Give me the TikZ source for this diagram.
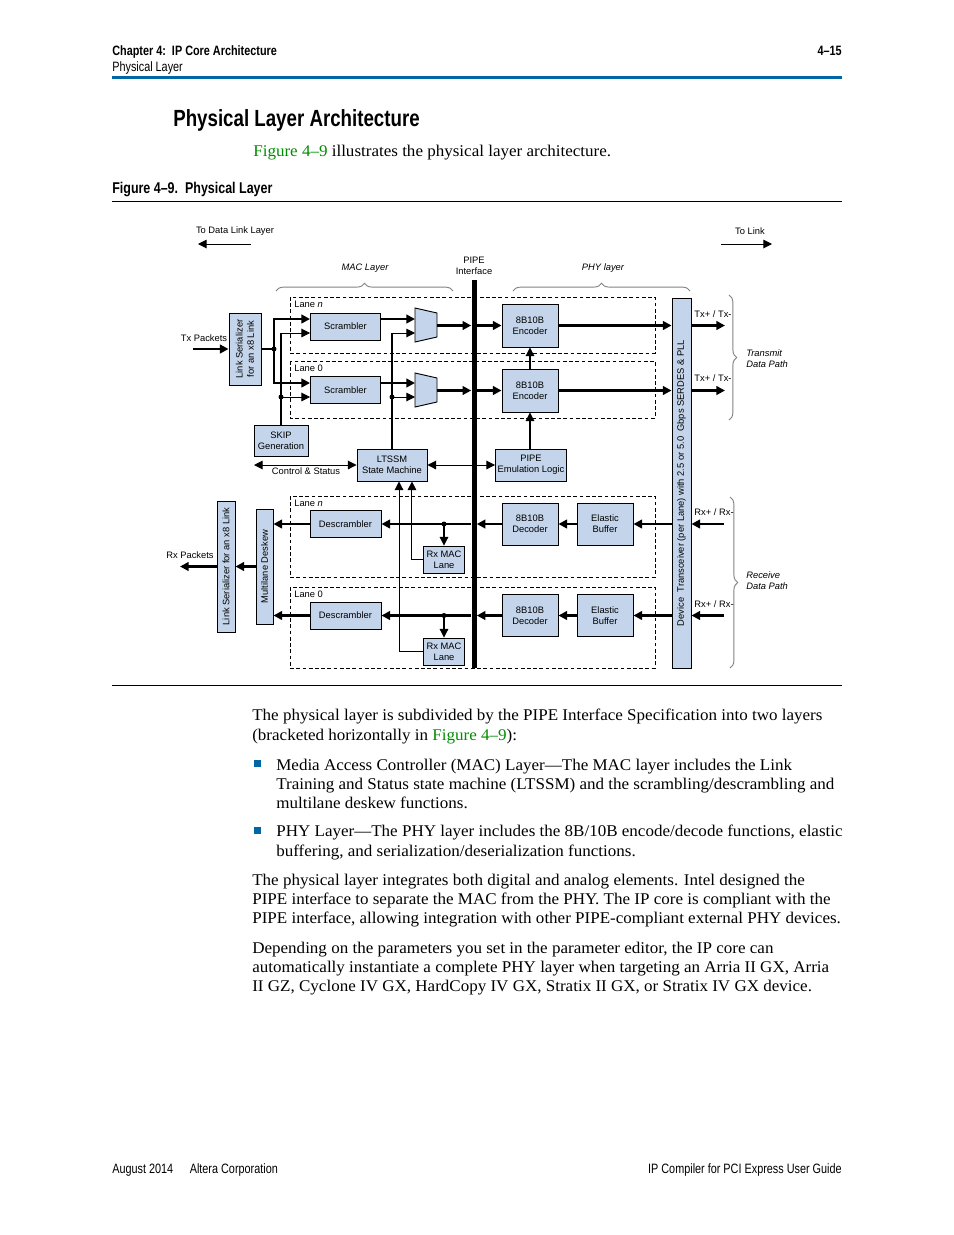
\documentclass[tikz,border=0pt]{standalone}
\usepackage{fontspec}
\setmainfont{Liberation Serif}[FakeStretch=1.04]
\setsansfont{Liberation Sans}
\newfontfamily\condfont[FakeStretch=0.8,Ligatures=TeX]{Liberation Sans}
\usetikzlibrary{arrows.meta,positioning,calc,decorations.pathreplacing}
\definecolor{boxblue}{RGB}{196,213,235}
\definecolor{rulecol}{RGB}{0,102,164}
\definecolor{figgreen}{RGB}{0,140,0}
\definecolor{bracegray}{RGB}{130,130,130}

\begin{document}
\begin{tikzpicture}[x=0.6415pt,y=-0.6415pt,
  >={Triangle[length=5.5pt,width=5.5pt]},
  sz/.style 2 args={minimum width=#1*0.6415pt,minimum height=#2*0.6415pt},
  diag/.style={font=\sffamily\fontsize{6}{7.2}\selectfont},
  blk/.style={draw,fill=boxblue,line width=0.6pt,inner sep=0pt,align=center,diag},
  lbl/.style={inner sep=0pt,align=center,diag},
  ital/.style={inner sep=0pt,align=left,font=\sffamily\itshape\fontsize{6}{7.2}\selectfont},
  ctl/.style={line width=0.65pt},
  data/.style={line width=1.9pt},
  lane/.style={draw,line width=0.6pt,dash pattern=on 2.4pt off 1.6pt},
  brc/.style={draw=bracegray,line width=0.6pt,decorate,decoration={brace,amplitude=5pt}},
  hdr/.style={inner sep=0pt,font=\condfont\bfseries\fontsize{8.7}{10}\selectfont},
  foot/.style={inner sep=0pt,font=\condfont\fontsize{8.7}{10}\selectfont},
  body/.style={inner sep=0pt,anchor=base west,align=left,font=\fontsize{10.5}{12.4}\selectfont},
  bul/.style={fill=rulecol,inner sep=0pt,sz={7}{7}}]
\useasboundingbox (0,0) rectangle (954,1235);

% page header
\node[hdr,anchor=base west] (chap) at (112,55) {Chapter 4:\ \ IP Core Architecture};
\node[foot,anchor=base west] (sect) at (112,71) {Physical Layer};
\node[hdr,anchor=base east] (pgno) at (842,55) {4--15};
\draw[rulecol,line width=1.6pt] (112,77.5) -- (842,77.5);
\node[hdr,font=\condfont\bfseries\fontsize{15}{17}\selectfont,anchor=base west] (title) at (173,126) {Physical Layer Architecture};
\node[body] (intro) at (253,156) {\textcolor{figgreen}{Figure 4--9} illustrates the physical layer architecture.};
\node[hdr,font=\condfont\bfseries\fontsize{10}{12}\selectfont,anchor=base west] (cap) at (112,193) {Figure 4--9.\ \ Physical Layer};
\draw[line width=0.6pt] (112,201) -- (842,201);
\draw[line width=0.6pt] (112,685) -- (842,685);

% lanes
\draw[lane] (290,297) rectangle (655,353);
\draw[lane] (290,361) rectangle (655,418);
\draw[lane] (290,496) rectangle (655,577);
\draw[lane] (290,587) rectangle (655,668);
\node[lbl,anchor=west] (lntx) at (294,304) {Lane \textit{n}};
\node[lbl,anchor=west] (l0tx) at (294,368.5) {Lane 0};
\node[lbl,anchor=west] (lnrx) at (294,503) {Lane \textit{n}};
\node[lbl,anchor=west] (l0rx) at (294,594) {Lane 0};

% blocks
\node[blk,rotate=90,sz={72}{32}] (txser) at (245,349) {Link Serializer\\for an x8 Link};
\node[blk,sz={70}{27}] (scrn) at (345.5,326.5) {Scrambler};
\node[blk,sz={70}{27}] (scr0) at (345.5,390) {Scrambler};
\node[blk,sz={54}{31}] (skip) at (281,440.5) {SKIP\\Generation};
\node[blk,sz={70}{32}] (ltssm) at (392,465) {LTSSM\\State Machine};
\node[blk,sz={71}{32}] (pemu) at (531,465) {PIPE\\Emulation Logic};
\node[blk,sz={56}{43}] (encn) at (530,325.5) {8B10B\\Encoder};
\node[blk,sz={56}{43}] (enc0) at (530,390.5) {8B10B\\Encoder};
\node[blk,rotate=90,sz={370}{19}] (serdes) at (681.5,483) {Device\ \ Transceiver (per Lane) with 2.5 or 5.0\ \ Gbps SERDES \& PLL};
\node[blk,sz={56}{42}] (decn) at (530,524) {8B10B\\Decoder};
\node[blk,sz={56}{42}] (dec0) at (530,615.5) {8B10B\\Decoder};
\node[blk,sz={56}{42}] (elbn) at (605,524) {Elastic\\Buffer};
\node[blk,sz={56}{42}] (elb0) at (605,615.5) {Elastic\\Buffer};
\node[blk,sz={71}{27}] (descn) at (345.5,524) {Descrambler};
\node[blk,sz={71}{27}] (desc0) at (345.5,615.5) {Descrambler};
\node[blk,sz={41}{27}] (rxmacn) at (444,559.5) {Rx MAC\\Lane};
\node[blk,sz={41}{27}] (rxmac0) at (444,651.5) {Rx MAC\\Lane};
\node[blk,rotate=90,sz={115}{17}] (deskew) at (264.5,566.5) {Multilane Deskew};
\node[blk,rotate=90,sz={131}{18}] (rxser) at (226,566.5) {Link Serializer for an x8 Link};
\node[fill=black,inner sep=0pt,sz={5}{388}] (pipe) at (474,474) {};

% muxes
\draw[fill=boxblue,line width=0.6pt] (415,308) -- (437,313) -- (437,337) -- (415,342) -- cycle;
\draw[fill=boxblue,line width=0.6pt] (415,373) -- (437,378) -- (437,402) -- (415,407) -- cycle;
\coordinate (muxna) at (415,319);
\coordinate (muxnb) at (415,333);
\coordinate (muxne) at (437,325.5);
\coordinate (mux0a) at (415,383);
\coordinate (mux0b) at (415,397);
\coordinate (mux0e) at (437,390.5);

% free ends
\coordinate (txpk) at (193,349);
\coordinate (txj) at (274,349);
\coordinate (txn) at (725,325.5);
\coordinate (tx0) at (725,390.5);
\coordinate (rxn) at (724,524);
\coordinate (rx0) at (724,615.5);
\coordinate (rxpk) at (180,566.5);
\coordinate (cs) at (254,465);
\coordinate (dlla) at (251,244);
\coordinate (dllb) at (198,244);
\coordinate (lnka) at (721,244);
\coordinate (lnkb) at (772,244);

% transmit path
\draw[data,->] (txpk) -- (txser.north);
\draw[data] (txser.south) -- (txj);
\fill (txj) circle[radius=1.6pt];
\draw[data,->] (txj) |- (scrn.west |- muxna);
\draw[data,->] (txj) |- (scr0.west |- mux0a);
\path[data,->]
(scrn.east |- muxna) edge (muxna)
(scr0.east |- mux0a) edge (mux0a)
(muxne) edge (muxne -| pipe.west)
(mux0e) edge (mux0e -| pipe.west)
(muxne -| pipe.east) edge (encn.west)
(mux0e -| pipe.east) edge (enc0.west)
(encn.east) edge (encn.east -| serdes.north)
(enc0.east) edge (enc0.east -| serdes.north)
(txn -| serdes.south) edge (txn)
(tx0 -| serdes.south) edge (tx0)
;
\draw[ctl,->] (skip.north) |- (scrn.west |- muxnb);
\draw[ctl,->] (skip.north |- mux0b) -- (scr0.west |- mux0b);
\fill (skip.north |- mux0b) circle[radius=1.6pt];
\draw[ctl,->] (ltssm.north) |- (muxnb);
\draw[ctl,->] (ltssm.north |- mux0b) -- (mux0b);
\fill (ltssm.north |- mux0b) circle[radius=1.6pt];
\path[ctl,->]
(enc0.north) edge (encn.south)
(enc0.south |- pemu.north) edge (enc0.south)
;
\path[ctl,<->]
(cs) edge (ltssm.west)
(ltssm.east) edge (pemu.west)
;

% receive path
\path[data,->]
(rxn) edge (rxn -| serdes.south)
(rx0) edge (rx0 -| serdes.south)
(rxn -| serdes.north) edge (elbn.east)
(rx0 -| serdes.north) edge (elb0.east)
(elbn.west) edge (decn.east)
(elb0.west) edge (dec0.east)
(decn.west) edge (decn.west -| pipe.east)
(dec0.west) edge (dec0.west -| pipe.east)
(decn.west -| pipe.west) edge (descn.east)
(dec0.west -| pipe.west) edge (desc0.east)
(descn.west) edge (descn.west -| deskew.south)
(desc0.west) edge (desc0.west -| deskew.south)
(deskew.north) edge (rxser.south)
(rxser.north) edge (rxpk)
;
\fill (rxmacn.north |- descn.east) circle[radius=1.6pt];
\fill (rxmac0.north |- desc0.east) circle[radius=1.6pt];
\path[ctl,->]
(rxmacn.north |- descn.east) edge (rxmacn.north)
(rxmac0.north |- desc0.east) edge (rxmac0.north)
;
\draw[ctl,->] (rxmacn.west) -| ([xshift=12.8pt]ltssm.south);
\draw[ctl,->] (rxmac0.west) -| ([xshift=4.5pt]ltssm.south);

% outer labels
\path[ctl,->] (dlla) edge (dllb) (lnka) edge (lnkb);
\node[lbl] (tdll) at (235,231) {To Data Link Layer};
\node[lbl] (tlnk) at (750,231) {To Link};
\node[ital] (tmac) at (365,268) {MAC Layer};
\node[lbl] (tpipe) at (474,265.5) {PIPE\\Interface};
\node[ital] (tphy) at (603,268) {PHY layer};
\draw[brc] (276,291) -- (453,291);
\draw[brc] (513,291) -- (690,291);
\draw[brc] (729,295) -- (729,420);
\draw[brc] (730,497) -- (730,668);
\node[ital,anchor=west] (ttx) at (746,358.5) {Transmit\\Data Path};
\node[ital,anchor=west] (trx) at (746,580.5) {Receive\\Data Path};
\node[lbl] (txpn) at (713,314) {Tx+ / Tx-};
\node[lbl] (txp0) at (713,378) {Tx+ / Tx-};
\node[lbl] (rxpn) at (714,512) {Rx+ / Rx-};
\node[lbl] (rxp0) at (714,604) {Rx+ / Rx-};
\node[lbl] (ttxpk) at (204,338) {Tx Packets};
\node[lbl] (trxpk) at (190,555) {Rx Packets};
\node[lbl] (tcs) at (306,471) {Control \& Status};

% body text (base = last line)
\node[body] (para1) at (252,740.3) {The physical layer is subdivided by the PIPE Interface Specification into two layers\\(bracketed horizontally in \textcolor{figgreen}{Figure 4--9}):};
\node[bul] (b1) at (257.5,763.5) {};
\node[body] (item1) at (276,808.7) {Media Access Controller (MAC) Layer---The MAC layer includes the Link\\Training and Status state machine (LTSSM) and the scrambling/descrambling and\\multilane deskew functions.};
\node[bul] (b2) at (257.5,830.5) {};
\node[body] (item2) at (276,856.3) {PHY Layer---The PHY layer includes the 8B/10B encode/decode functions, elastic\\buffering, and serialization/deserialization functions.};
\node[body] (para2) at (252,923.7) {The physical layer integrates both digital and analog elements. Intel designed the\\PIPE interface to separate the MAC from the PHY. The IP core is compliant with the\\PIPE interface, allowing integration with other PIPE-compliant external PHY devices.};
\node[body] (para3) at (252,991.7) {Depending on the parameters you set in the parameter editor, the IP core can\\automatically instantiate a complete PHY layer when targeting an Arria II GX, Arria\\II GZ, Cyclone IV GX, HardCopy IV GX, Stratix II GX, or Stratix IV GX device.};

% footer
\node[foot,anchor=base west] (fl) at (112,1173) {August 2014\quad\ Altera Corporation};
\node[foot,anchor=base east] (fr) at (842,1173) {IP Compiler for PCI Express User Guide};
\end{tikzpicture}
\end{document}
